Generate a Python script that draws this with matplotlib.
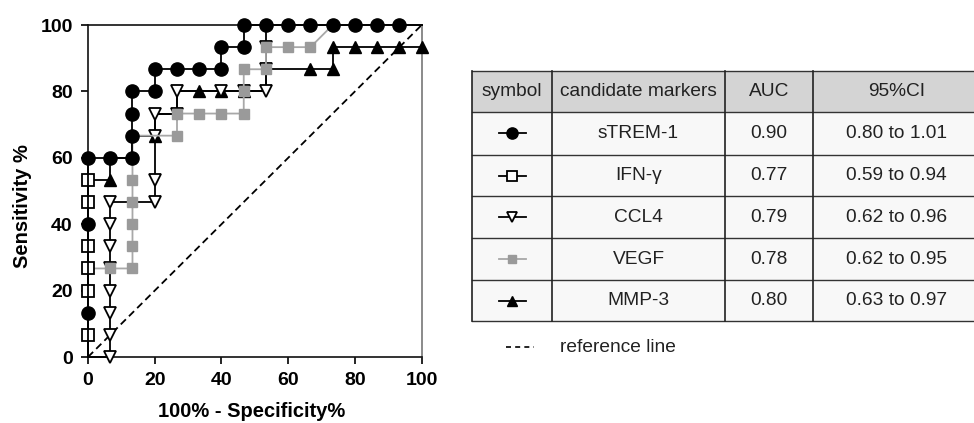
import matplotlib
matplotlib.use('Agg')
import matplotlib.pyplot as plt
from matplotlib.patches import Rectangle

plt.rcParams['font.family'] = ['Liberation Sans', 'DejaVu Sans']

# ROC curves (1 - specificity %, sensitivity %)
strem_x = [0, 0, 0, 0, 6.67, 13.33, 13.33, 13.33, 13.33, 20, 20, 26.67, 33.33, 40, 40, 46.67, 46.67,
           53.33, 60, 66.67, 73.33, 80, 86.67, 93.33, 100]
strem_y = [0, 13.33, 40, 60, 60, 60, 66.67, 73.33, 80, 80, 86.67, 86.67, 86.67, 86.67, 93.33, 93.33, 100,
           100, 100, 100, 100, 100, 100, 100, 100]
strem_marks = list(range(1, 24))

ifn_x = [0, 0, 0, 0, 0, 0, 0]
ifn_y = [0, 6.67, 20, 26.67, 33.33, 46.67, 53.33]
ifn_marks = [1, 2, 3, 4, 5, 6]

ccl4_x = [0, 6.67, 6.67, 6.67, 6.67, 6.67, 6.67, 6.67, 6.67, 13.33, 20, 20, 20, 20, 20, 26.67, 26.67,
          40, 46.67, 53.33, 53.33, 53.33, 53.33]
ccl4_y = [0, 0, 6.67, 13.33, 20, 26.67, 33.33, 40, 46.67, 46.67, 46.67, 53.33, 60, 66.67, 73.33, 73.33, 80,
          80, 80, 80, 86.67, 93.33, 100]
ccl4_marks = [1, 2, 3, 4, 5, 6, 7, 8, 10, 11, 13, 14, 15, 16, 17, 18, 19, 20, 21]

vegf_x = [0, 6.67, 13.33, 13.33, 13.33, 13.33, 13.33, 13.33, 26.67, 26.67, 33.33, 40, 46.67, 46.67, 46.67,
          53.33, 53.33, 60, 66.67, 73.33]
vegf_y = [26.67, 26.67, 26.67, 33.33, 40, 46.67, 53.33, 66.67, 66.67, 73.33, 73.33, 73.33, 73.33, 80, 86.67,
          86.67, 93.33, 93.33, 93.33, 100]
vegf_marks = [1, 2, 3, 4, 5, 6, 8, 9, 10, 11, 12, 13, 14, 15, 16, 17, 18]

mmp_x = [0, 6.67, 6.67, 13.33, 13.33, 20, 20, 26.67, 26.67, 33.33, 40, 46.67, 53.33, 53.33, 66.67, 73.33,
         73.33, 80, 86.67, 93.33, 100]
mmp_y = [53.33, 53.33, 60, 60, 66.67, 66.67, 73.33, 73.33, 80, 80, 80, 80, 80, 86.67, 86.67, 86.67,
         93.33, 93.33, 93.33, 93.33, 93.33]
mmp_marks = [1, 5, 9, 10, 11, 14, 15, 16, 17, 18, 19, 20]

ref_x = [0, 100]
ref_y = [0, 100]

ticks = [0, 20, 40, 60, 80, 100]

# table contents
table_header = ['symbol', 'candidate markers', 'AUC', '95%CI']
markers = ['sTREM-1', 'IFN-\u03b3', 'CCL4', 'VEGF', 'MMP-3']
auc = ['0.90', '0.77', '0.79', '0.78', '0.80']
ci = ['0.80 to 1.01', '0.59 to 0.94', '0.62 to 0.96', '0.62 to 0.95', '0.63 to 0.97']

# marker styles for each curve
styles = {
    'sTREM-1': dict(color='black', marker='o', ms=9.5, mfc='black', mec='black', zorder=7),
    'IFN-\u03b3': dict(color='black', marker='s', ms=8, mfc='white', mec='black', mew=1.3, zorder=6),
    'CCL4': dict(color='black', marker='v', ms=9, mfc='white', mec='black', mew=1.3, zorder=4),
    'VEGF': dict(color='#a8a8a8', marker='s', ms=7.5, mfc='#9a9a9a', mec='#9a9a9a', zorder=5),
    'MMP-3': dict(color='black', marker='^', ms=9, mfc='black', mec='black', zorder=3),
}
curves = {
    'sTREM-1': (strem_x, strem_y, strem_marks),
    'IFN-\u03b3': (ifn_x, ifn_y, ifn_marks),
    'CCL4': (ccl4_x, ccl4_y, ccl4_marks),
    'VEGF': (vegf_x, vegf_y, vegf_marks),
    'MMP-3': (mmp_x, mmp_y, mmp_marks),
}

W, H = 974, 423
fig = plt.figure(figsize=(W / 100, H / 100), dpi=100)

# background axes in pixel coordinates for the table
tab = fig.add_axes([0, 0, 1, 1])
tab.set_xlim(0, W)
tab.set_ylim(H, 0)
tab.axis('off')

col_edges = [472, 552, 725, 813, 980]
row_edges = [71, 112, 155, 196.5, 238, 280, 321.5]

for r in range(len(row_edges) - 1):
    fill = '#d4d4d4' if r == 0 else '#f8f8f8'
    tab.add_patch(Rectangle((col_edges[0], row_edges[r]), col_edges[-1] - col_edges[0],
                            row_edges[r + 1] - row_edges[r], facecolor=fill, edgecolor='none'))
for yv in row_edges:
    tab.plot([col_edges[0], col_edges[-1]], [yv, yv], color='#333333', lw=1.0)
for xv in col_edges:
    tab.plot([xv, xv], [row_edges[0], row_edges[-1]], color='#222222', lw=1.2)

def cell_center(c, r):
    return (col_edges[c] + col_edges[c + 1]) / 2, (row_edges[r] + row_edges[r + 1]) / 2

for c, label in enumerate(table_header):
    cx, cy = cell_center(c, 0)
    tab.text(cx, cy, label, ha='center', va='center', fontsize=13.8, color='#222222')

for i, name in enumerate(markers):
    r = i + 1
    cx, cy = cell_center(0, r)
    st = styles[name]
    tab.plot([cx - 13.5, cx + 13.5], [cy, cy], color=st['color'], lw=1.3)
    tab.plot([cx], [cy], linestyle='none', marker=st['marker'], ms=st['ms'] * 0.85,
             mfc=st['mfc'], mec=st['mec'], mew=st.get('mew', 1.0))
    for c, txt in [(1, name), (2, auc[i]), (3, ci[i])]:
        x, y = cell_center(c, r)
        tab.text(x, y, txt, ha='center', va='center', fontsize=13.8, color='#222222')

tab.plot([506, 534], [347, 347], color='black', lw=1.2, dashes=(3, 2.5))
tab.text(560, 347, 'reference line', ha='left', va='center', fontsize=13.8, color='#222222')

# ROC plot
ax = fig.add_axes([88 / W, 1 - 357 / H, (421.7 - 88) / W, 332 / H])
ax.set_facecolor('none')

for name in markers:
    xs, ys, marks = curves[name]
    st = styles[name]
    ax.plot(xs, ys, color=st['color'], lw=1.3, marker=st['marker'], ms=st['ms'],
            mfc=st['mfc'], mec=st['mec'], mew=st.get('mew', 1.0), markevery=marks,
            zorder=st['zorder'], clip_on=False)

ax.plot(ref_x, ref_y, color='black', lw=1.3, dashes=(4, 2.4), zorder=2)

ax.set_xlim(0, 100)
ax.set_ylim(0, 100)
ax.set_xticks(ticks)
ax.set_yticks(ticks)
ax.tick_params(direction='out', length=5, width=1.2, pad=6, labelsize=14)
for lab in ax.get_xticklabels() + ax.get_yticklabels():
    lab.set_fontweight('bold')
for side in ['left', 'bottom', 'top']:
    ax.spines[side].set_linewidth(1.2)
    ax.spines[side].set_color('#111111')
ax.spines['right'].set_linewidth(1.2)
ax.spines['right'].set_color('#777777')

ax.set_xlabel('100% - Specificity%', fontsize=14.5, fontweight='bold')
ax.xaxis.set_label_coords(0.49, -0.165)
ax.xaxis.label.set_va('center')
ax.set_ylabel('Sensitivity %', fontsize=14.5, fontweight='bold')
ax.yaxis.set_label_coords(-0.195, 0.455)
ax.yaxis.label.set_va('center')

fig.savefig('out.png', dpi=100)
